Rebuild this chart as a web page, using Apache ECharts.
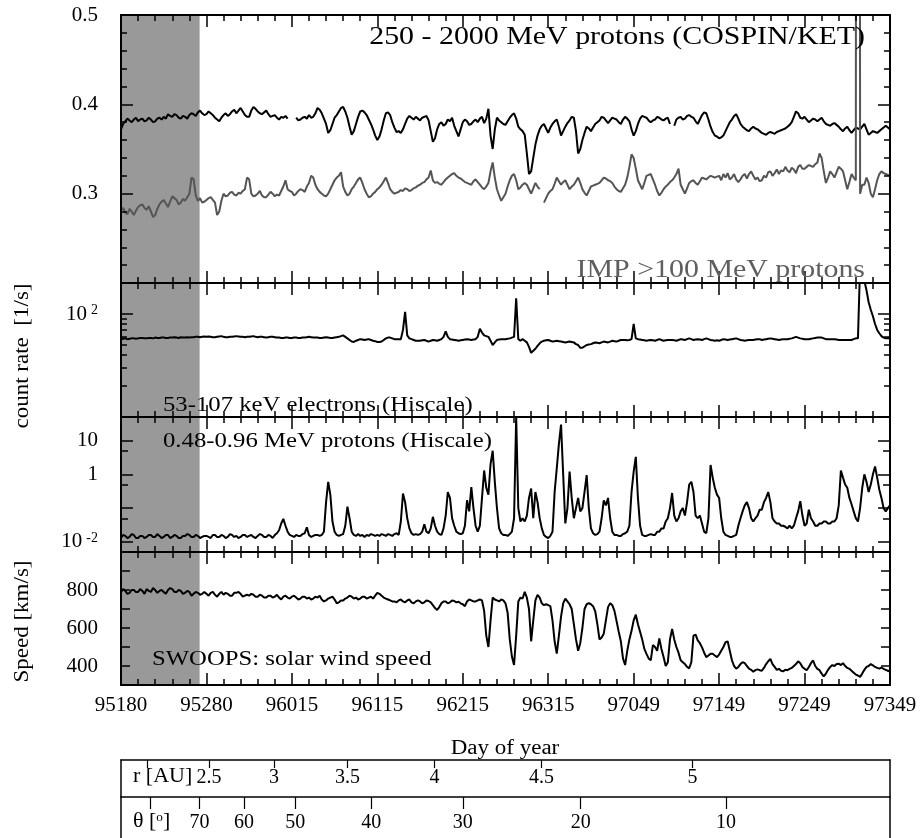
<!DOCTYPE html>
<html><head><meta charset="utf-8">
<script src="https://cdn.jsdelivr.net/npm/echarts@6/dist/echarts.min.js"></script>
<style>html,body{margin:0;padding:0;background:#fff}#c{width:922px;height:838px}</style>
</head><body><div id="c"></div>
<script>
// ---------------- data ----------------
const dayStep = 2.5; // days between samples, day 0 = 95180
const xTickLabels = ['95180','95280','96015','96115','96215','96315','97049','97149','97249','97349'];
const shadeDays = [0, 92];

const ketRate = [
0.372,0.378,0.381,0.384,0.382,0.380,0.383,0.385,0.381,0.383,0.384,0.381,0.382,0.385,0.383,0.380,0.381,0.384,0.385,0.383,
0.386,0.384,0.389,0.387,0.386,0.389,0.388,0.385,0.384,0.387,0.386,0.384,0.388,0.390,0.389,0.387,0.391,0.393,0.390,0.388,
0.389,0.392,0.390,0.388,0.385,0.383,0.381,0.385,0.388,0.390,0.387,0.389,0.392,0.394,0.390,0.393,0.396,0.392,0.388,0.386,
0.386,0.393,0.397,0.395,0.392,0.390,0.389,0.391,0.393,0.389,0.386,0.387,0.388,0.385,0.383,0.386,0.385,0.387,0.384,null,
0.385,null,0.385,0.382,0.383,0.385,0.386,0.384,0.388,0.385,0.386,0.390,0.396,0.394,0.390,0.384,0.378,0.368,0.371,0.378,
0.385,0.388,0.392,0.396,0.397,0.392,0.385,0.375,0.366,0.370,0.378,0.386,0.392,0.393,0.391,0.388,0.383,0.378,0.372,0.365,
0.360,0.364,0.372,0.382,0.390,0.391,0.388,0.380,0.374,0.369,0.370,0.368,0.372,0.378,0.384,0.387,0.385,0.383,0.386,0.384,
0.382,0.385,0.386,0.387,0.382,0.370,0.358,0.362,0.372,0.378,0.380,0.376,0.378,0.383,0.381,0.385,0.376,0.370,0.364,0.372,
0.380,0.383,0.381,0.377,0.378,0.381,0.383,0.380,0.384,0.386,0.379,0.384,0.395,0.365,0.350,0.372,0.385,0.382,0.380,0.378,
0.377,0.381,0.385,0.388,0.390,0.384,0.375,0.372,0.370,0.366,0.345,0.322,0.325,0.340,0.355,0.365,0.372,0.376,0.378,0.373,
0.368,0.374,0.378,0.381,0.383,0.375,0.365,0.370,0.375,0.379,0.382,0.386,0.385,0.370,0.345,0.350,0.360,0.368,0.375,0.373,
0.370,0.374,0.378,0.380,0.382,0.386,0.385,0.382,0.379,0.382,0.385,0.384,0.383,0.380,0.378,0.383,0.386,0.384,0.381,0.372,
0.365,0.370,0.378,0.384,0.387,0.386,0.385,0.382,0.380,0.382,0.383,0.386,0.385,0.383,0.382,0.384,0.385,0.378,null,0.376,
0.383,0.385,0.386,0.383,0.384,0.387,0.388,0.386,0.385,0.381,0.378,0.383,0.388,0.391,0.390,0.383,0.375,0.369,0.365,0.364,
0.362,0.363,0.365,0.370,0.375,0.380,0.383,0.387,0.389,0.384,0.378,0.375,0.373,0.371,0.370,0.373,0.375,0.373,0.372,0.370,
0.368,0.367,0.366,0.368,0.369,0.368,0.367,0.369,0.370,0.371,0.372,0.373,0.375,0.377,0.380,0.386,0.392,0.390,0.385,0.384,
0.386,0.383,0.380,0.382,0.384,0.383,0.381,0.383,0.385,0.381,0.378,0.377,0.376,0.378,0.379,0.377,0.375,0.372,0.370,0.373,
0.375,0.371,0.368,0.371,0.374,0.373,0.372,0.375,0.378,0.372,0.366,0.368,0.370,0.369,0.368,0.370,0.372,0.374,0.376,0.374,
0.372];

const impRate = [
0.281,0.284,0.279,0.277,0.283,0.280,0.276,0.281,0.285,0.287,0.288,0.284,0.282,0.286,0.280,0.274,0.276,0.283,0.288,0.291,
0.293,0.289,0.285,0.291,0.297,0.295,0.293,0.288,0.290,0.294,0.292,0.296,0.300,0.318,0.316,0.298,0.292,0.295,0.290,0.291,
0.293,0.295,0.296,0.293,0.290,0.276,0.280,0.292,0.300,0.297,0.298,0.301,0.302,0.299,0.298,0.301,0.300,0.303,0.305,0.318,
0.316,0.300,0.297,0.298,0.300,0.303,0.298,0.296,0.296,0.299,0.302,0.300,0.297,0.299,0.298,0.303,0.308,0.315,0.305,0.303,
0.302,0.298,0.300,0.303,0.305,0.304,0.302,0.308,0.312,0.320,0.318,0.310,0.305,0.302,0.300,0.298,0.297,0.300,0.305,0.310,
0.315,0.318,0.320,0.324,0.308,0.302,0.298,0.300,0.305,0.308,0.312,0.316,0.318,0.312,0.305,0.300,0.296,0.297,0.300,0.302,
0.305,0.307,0.310,0.314,0.318,0.312,0.305,0.302,0.300,0.301,0.302,0.304,0.303,0.306,0.305,0.303,0.304,0.306,0.307,0.309,
0.310,0.312,0.313,0.316,0.318,0.326,0.315,0.312,0.313,0.311,0.310,0.313,0.316,0.318,0.320,0.322,0.323,0.320,0.318,0.317,
0.315,0.313,0.312,0.311,0.310,0.314,0.316,0.313,0.310,0.307,0.305,0.308,0.312,0.325,0.335,0.318,0.305,0.298,0.292,0.296,
0.300,0.308,0.315,0.320,0.322,0.315,0.305,0.307,0.310,0.312,0.310,0.305,0.300,0.306,0.312,0.308,0.305,null,0.290,0.295,
0.300,0.303,0.305,0.311,0.318,0.314,0.310,0.313,0.315,0.310,0.305,0.308,0.310,0.314,0.318,0.312,0.305,0.301,0.298,0.303,
0.308,0.309,0.310,0.311,0.312,0.315,0.318,0.317,0.315,0.314,0.312,0.308,0.305,0.303,0.302,0.306,0.310,0.318,0.330,0.344,
0.340,0.328,0.315,0.310,0.305,0.312,0.320,0.321,0.322,0.316,0.310,0.303,0.298,0.301,0.305,0.308,0.310,0.313,0.315,0.318,
0.322,0.328,0.310,0.305,0.300,0.306,0.312,0.314,0.315,0.312,0.310,0.314,0.318,0.317,0.316,0.318,0.320,0.319,0.318,0.319,
0.320,0.315,0.322,0.318,0.323,0.316,0.318,0.322,0.316,0.313,0.316,0.320,0.322,0.317,0.322,0.325,0.320,0.316,0.318,0.314,
0.315,0.320,0.318,0.324,0.325,0.320,0.323,0.327,0.322,0.326,0.325,0.330,0.326,0.324,0.329,0.327,0.323,0.330,0.332,0.328,
0.328,0.330,0.332,0.331,0.330,0.333,0.335,0.345,0.340,0.325,0.312,0.318,0.325,0.322,0.318,0.324,0.330,0.328,0.325,0.315,
0.305,0.313,0.322,0.318,0.315,5.0,0.300,0.310,0.310,0.318,0.312,0.300,0.296,0.305,0.315,0.322,0.325,0.323,0.322,0.321,
0.320];

const electronRate = [
57,57.5,58,57,57.5,58,58,57.5,58,58.5,58.5,58,58,58.5,58.5,58,59,58.5,58.5,59,
59,58.5,58.5,59,59,59.5,59,58.5,59.5,59,59,59.5,59,59.5,59.5,60,60,59.5,60,60.5,
60,60.5,60,59.5,59.5,60,60.5,61,60,59.5,59.5,60,60,60.5,61,60.5,60,60,59.5,60,
60,60.5,61,60,59.5,60,60,59.5,59,59.5,60,60,59.5,59,59,58.5,58.5,59,59,58.5,
58.5,59,59,58.5,58.5,59,59,59.5,60,59.5,59,59,59,58.5,58.5,59,59.5,59,58.5,58.5,
59,59.5,60,61,62,60,58,56,54,53.5,55,56,57,56.5,56,56.5,57,56,55,54.5,
53.5,53.5,54,56,58,59,59,58,57,57,57,57,70,105,62,58,57,56,55,55,
55,55.5,56,55,54,55,56,55.5,55,56,57,60,68,60,57,56.5,56,55.5,55,55.5,
56,56.5,57,56.5,56,56.5,57,60,72,66,62,61,60,55,50,53,56,56.5,57,57,
57,57.5,58,59,60,142,57,55,57,55,53,48,42,44,46,49,52,54,55,55.5,
56,55,54,54.5,55,54.5,54,53.5,53,53.5,54,53.5,53,51,50,47,47,48.5,50,50.5,
51,52,53,52.5,52,53,54,53.5,53,54,55,54.5,54,55,56,56,56,55.5,56,57,
80,58,57,56.5,56,55.5,55,55.5,56,55.5,55,56,57,56,55,55.5,56,56,56,55.5,
55,56,57,56.5,56,57,58,57,56,56.5,57,56.5,56,57,58,57,56,55.5,55,55.5,
55,56,57,56.5,56,56.5,57,57.5,58,57,56,55.5,55,55.5,56,56,56,56.5,57,57,
56,56.5,57,57.5,58,57.5,57,56.5,56,56.5,57,57,57,57.5,58,59,60,59,58,57.5,
57,57,57,57.5,58,58.5,59,59,59,58,57,57,57,57,57,56.5,56,56,56,56,
56,56,56,57,58,58,300,280,210,170,130,110,95,80,70,65,61,59,58,58,
58];

const protonRate = [
0.013,0.016,0.015,0.013,0.014,0.017,0.016,0.013,0.013,0.015,0.015,0.013,0.014,0.016,0.016,0.014,0.014,0.017,0.015,0.013,
0.014,0.016,0.016,0.013,0.014,0.016,0.015,0.013,0.013,0.015,0.015,0.017,0.016,0.014,0.014,0.016,0.015,0.013,0.014,0.015,
0.015,0.014,0.013,0.016,0.016,0.014,0.014,0.016,0.015,0.013,0.014,0.017,0.016,0.014,0.015,0.013,0.014,0.016,0.016,0.014,
0.015,0.016,0.014,0.013,0.015,0.017,0.016,0.014,0.014,0.016,0.015,0.013,0.016,0.018,0.022,0.035,0.048,0.03,0.02,0.016,
0.015,0.014,0.016,0.015,0.015,0.017,0.018,0.027,0.016,0.014,0.015,0.016,0.016,0.015,0.016,0.02,0.15,0.6,0.25,0.04,
0.02,0.016,0.015,0.016,0.017,0.03,0.11,0.05,0.02,0.016,0.015,0.017,0.015,0.016,0.014,0.016,0.015,0.017,0.016,0.015,
0.016,0.015,0.017,0.016,0.015,0.017,0.016,0.015,0.017,0.018,0.016,0.04,0.27,0.15,0.05,0.025,0.018,0.016,0.017,0.016,
0.017,0.02,0.033,0.02,0.018,0.025,0.055,0.03,0.02,0.017,0.016,0.025,0.06,0.3,0.2,0.05,0.03,0.02,0.018,0.017,
0.018,0.03,0.17,0.08,0.42,0.1,0.03,0.02,0.03,0.2,1.3,0.4,0.25,2.0,5.0,0.6,0.1,0.025,0.018,0.016,
0.016,0.015,0.017,0.02,0.05,48,0.1,0.04,0.05,0.04,0.06,0.2,0.38,0.05,0.3,0.15,0.05,0.025,0.016,0.014,
0.013,0.015,0.02,0.3,1.5,8,30,1.0,0.035,0.1,1.2,0.2,0.05,0.1,0.2,0.08,0.1,0.3,0.95,0.1,
0.025,0.018,0.016,0.017,0.02,0.05,0.17,0.12,0.2,0.05,0.02,0.016,0.016,0.015,0.015,0.017,0.018,0.02,0.03,0.3,
1.2,3.3,0.2,0.03,0.016,0.015,0.015,0.016,0.017,0.016,0.016,0.02,0.02,0.025,0.025,0.04,0.05,0.1,0.28,0.06,
0.04,0.05,0.08,0.1,0.06,0.15,0.5,0.6,0.3,0.06,0.05,0.06,0.035,0.02,0.018,0.05,1.9,0.8,0.4,0.25,
0.2,0.05,0.02,0.016,0.015,0.014,0.014,0.015,0.016,0.03,0.05,0.08,0.12,0.15,0.1,0.05,0.04,0.05,0.06,0.09,
0.09,0.15,0.2,0.3,0.15,0.05,0.04,0.035,0.035,0.03,0.03,0.028,0.025,0.03,0.025,0.03,0.05,0.08,0.16,0.06,
0.03,0.035,0.09,0.05,0.04,0.03,0.03,0.035,0.035,0.04,0.04,0.035,0.035,0.04,0.04,0.05,0.12,1.3,0.8,0.5,
0.4,0.2,0.13,0.08,0.05,0.04,0.1,0.4,1.0,0.6,0.3,0.5,1.0,1.7,0.8,0.35,0.2,0.1,0.08,0.1,
0.12];

const windSpeed = [
790,805,795,780,785,800,800,790,790,805,795,780,805,795,790,810,800,785,795,800,
790,780,800,810,805,790,790,800,795,780,785,795,790,770,780,790,785,775,780,790,
780,770,785,790,775,765,780,790,775,785,780,770,770,785,785,790,780,765,770,775,
770,780,775,765,765,775,770,760,760,770,770,760,765,775,760,750,765,770,760,755,
765,770,760,750,755,765,765,755,760,750,755,765,760,770,750,740,745,755,760,765,
750,730,735,745,745,755,760,770,765,755,760,750,755,765,765,755,760,765,755,770,
785,780,770,760,755,750,745,740,740,735,745,750,740,735,745,750,735,730,740,745,
740,730,735,745,742,735,720,705,695,710,730,740,740,730,735,745,742,735,738,730,
725,715,740,750,745,740,740,745,750,745,690,560,500,640,760,750,745,740,750,745,
730,680,540,450,405,560,740,760,755,790,760,700,530,640,745,775,760,730,720,725,
720,715,640,530,465,560,660,730,755,740,725,700,620,540,480,520,600,700,725,731,
725,715,688,620,540,550,570,640,710,731,720,690,636,580,530,440,405,480,540,585,
640,670,620,580,540,490,464,440,430,510,500,480,545,490,447,400,420,540,595,540,
500,470,430,420,410,395,388,420,560,565,535,520,498,470,447,455,465,464,455,447,
460,480,500,525,530,480,430,400,386,395,410,420,415,400,386,380,370,378,382,378,
375,390,410,425,438,410,395,380,385,375,372,380,378,385,390,400,410,425,415,395,
385,378,395,415,429,400,385,378,360,345,360,380,395,405,400,410,412,405,415,400,
390,385,375,365,355,350,343,360,380,395,400,410,403,395,390,386,392,385,380,375,
370];

const electronMajor = [100];
const electronMinor = [20,30,40,50,60,70,80,90];
const protonMajor = [0.01,0.1,1,10];
const protonMinor = [0.05,0.5,5];
const protonLabelled = [0.01,1,10];

const rTickDays = [31,103,179,265,367,492,669];
const rTickLabels = ['','2.5','3','3.5','4','4.5','5'];
const thetaTickDays = [34,92,144,204,293,400,538,708];
const thetaTickLabels = ['','70','60','50','40','30','20','10'];

// ---------------- chart ----------------
const SERIF = '"Liberation Serif","Times New Roman",serif';
const L = Math.log10;
function pairs(arr, tf){ return arr.map((v,i)=>[i*dayStep, v==null ? '-' : (tf ? tf(v) : v)]); }

const grids = [
  {left:121, right:32, top:15, height:268},
  {left:121, right:32, top:283, height:134},
  {left:121, right:32, top:417, height:135},
  {left:121, right:32, top:552, height:133},
  {left:121, right:32, top:760, height:37},
  {left:121, right:32, top:797, height:70}
];

const blk = '#000';
function xAx(g, pos, showLabel){
  return {type:'value', gridIndex:g, position:pos, min:0, max:900, interval:100, z:5,
    axisLine:{onZero:false, lineStyle:{color:blk, width:2}},
    axisTick:{inside:true, length:12, lineStyle:{color:blk, width:1.5}},
    minorTick:{show:true, splitNumber:5, length:6, lineStyle:{color:blk, width:1.5}},
    splitLine:{show:false}, minorSplitLine:{show:false},
    axisLabel:{show:showLabel, margin:10, color:blk, fontFamily:SERIF, fontSize:21,
      showMinLabel:true, showMaxLabel:true,
      formatter:v=>xTickLabels[Math.round(v/100)]}
  };
}
const richLab = {
  b:{fontFamily:SERIF, fontSize:21, color:blk},
  s:{fontFamily:SERIF, fontSize:14, color:blk, verticalAlign:'top', padding:[0,0,0,4]}
};
function yLin(g, pos, min, max, interval, minor, fmt, tickLen){
  const a = {type:'value', gridIndex:g, position:pos, min, max, interval, z:5,
    axisLine:{onZero:false, lineStyle:{color:blk, width:2}},
    axisTick:{inside:true, length:tickLen, lineStyle:{color:blk, width:1.5}},
    splitLine:{show:false},
    axisLabel:{show:!!fmt, margin:23, color:blk, fontFamily:SERIF, fontSize:21, formatter:fmt||undefined, showMinLabel:true, showMaxLabel:true}
  };
  if (minor) a.minorTick = {show:true, splitNumber:minor, length:6, lineStyle:{color:blk, width:1.5}};
  return a;
}
function yLog(g, pos, min, max, ticks, len, labVals, fmt, showLine){
  return {type:'value', gridIndex:g, position:pos, min:L(min), max:L(max), z:5,
    axisLine:{show:showLine, onZero:false, lineStyle:{color:blk, width:2}},
    axisTick:{inside:true, length:len, customValues:ticks.map(L), lineStyle:{color:blk, width:1.5}},
    splitLine:{show:false},
    axisLabel: labVals ? {show:true, margin:23, customValues:labVals.map(L), formatter:fmt, rich:richLab, color:blk, fontFamily:SERIF, fontSize:21} : {show:false}
  };
}
function frameY(g, pos){
  return {type:'value', gridIndex:g, position:pos, min:0, max:1, z:5,
    axisLine:{show:true, onZero:false, lineStyle:{color:blk, width:1.5}},
    axisTick:{show:false}, axisLabel:{show:false}, splitLine:{show:false}};
}
function tableX(g, ticks, labels, tickLen, margin){
  return {type:'value', gridIndex:g, position:'top', min:0, max:900, z:5,
    axisLine:{onZero:false, lineStyle:{color:blk, width:1.5}},
    axisTick:{inside:true, length:tickLen, customValues:ticks, lineStyle:{color:blk, width:1.2}},
    splitLine:{show:false},
    axisLabel:{inside:true, margin, customValues:ticks.filter((t,i)=>labels[i]!==''),
      color:blk, fontFamily:SERIF, fontSize:20,
      formatter:v=>labels[ticks.indexOf(v)]}
  };
}

const xAxis = [];
for (let g=0; g<4; g++){ xAxis.push(xAx(g,'bottom', g===3)); xAxis.push(xAx(g,'top', false)); }
xAxis.push(tableX(4, rTickDays, rTickLabels, 8, 8));
xAxis.push(tableX(5, thetaTickDays, thetaTickLabels, 12, 16));

const elFmt = v => '{b|10}{s|2}';
const prFmt = v => { const r = Math.round(v); return r===1 ? '10' : r===0 ? '1' : '{b|10}{s|-2}'; };
const yAxis = [
  yLin(0,'left',0.2,0.5,0.1,5, v=> v<0.25 ? '' : v.toFixed(1), 12),
  yLin(0,'right',0.2,0.5,0.1,5, null, 12),
  yLog(1,'left',10,200,electronMajor,12,[100],elFmt,true),
  yLog(1,'left',10,200,electronMinor,6,null,null,false),
  yLog(1,'right',10,200,electronMajor,12,null,null,true),
  yLog(1,'right',10,200,electronMinor,6,null,null,false),
  yLog(2,'left',0.005,50,protonMajor,12,protonLabelled,prFmt,true),
  yLog(2,'left',0.005,50,protonMinor,7,null,null,false),
  yLog(2,'right',0.005,50,protonMajor,12,null,null,true),
  yLog(2,'right',0.005,50,protonMinor,7,null,null,false),
  yLin(3,'left',300,1000,100,0, v=> (v===400||v===600||v===800) ? String(v) : '', 9),
  yLin(3,'right',300,1000,100,0, null, 9),
  frameY(4,'left'), frameY(4,'right'), frameY(5,'left'), frameY(5,'right')
];

function shade(xi, yi){
  return {type:'line', xAxisIndex:xi, yAxisIndex:yi, data:[], silent:true, z:1,
    markArea:{silent:true, itemStyle:{color:'#999999', opacity:1},
      data:[[{xAxis:shadeDays[0]},{xAxis:shadeDays[1]}]]}};
}
function line(xi, yi, data, color, w){
  return {type:'line', xAxisIndex:xi, yAxisIndex:yi, data, showSymbol:false, symbol:'none', z:3,
    lineStyle:{color, width:w}, itemStyle:{color}, clip:true, connectNulls:false, silent:true};
}

const series = [
  shade(0,0), line(0,0,pairs(ketRate),'#000',2), line(0,0,pairs(impRate),'#555555',2),
  shade(2,2), line(2,2,pairs(electronRate,L),'#000',2),
  shade(4,6), line(4,6,pairs(protonRate,L),'#000',2),
  shade(6,10), line(6,10,pairs(windSpeed),'#000',2)
];

function txt(x,y,text,size,align,opts){
  return Object.assign({type:'text', x, y, z:100, silent:true, scaleX:1.15,
    style:{text, fontFamily:SERIF, fontSize:size, fill:'#000', align, verticalAlign:'middle'}}, opts||{});
}
const graphic = [
  txt(865,37.5,'250 - 2000 MeV protons (COSPIN/KET)',26,'right'),
  txt(865,270,'IMP >100 MeV protons',26,'right',{style:{text:'IMP >100 MeV protons', fontFamily:SERIF, fontSize:26, fill:'#5f5f5f', align:'right', verticalAlign:'middle'}}),
  txt(163,405,'53-107 keV electrons (Hiscale)',21.5,'left'),
  txt(163,441.5,'0.48-0.96 MeV protons (Hiscale)',21.5,'left'),
  txt(152,659,'SWOOPS: solar wind speed',21.5,'left'),
  txt(22.5,356,'count rate  [1/s]',20,'center',{rotation:Math.PI/2}),
  txt(22.5,621.5,'Speed [km/s]',20,'center',{rotation:Math.PI/2}),
  txt(505,749,'Day of year',20,'center'),
  txt(133,777,'r [AU]',20,'left',{scaleX:1.1}),
  {type:'text', x:133, y:822, z:100, silent:true, scaleX:1.1,
    style:{text:'θ [{s|o}]', fontFamily:SERIF, fontSize:20, fill:'#000', align:'left', verticalAlign:'middle',
      rich:{s:{fontFamily:SERIF, fontSize:12, fill:'#000', verticalAlign:'top'}}}}
];

const chart = echarts.init(document.getElementById('c'), null, {renderer:'canvas'});
chart.setOption({animation:false, backgroundColor:'#fff', grid:grids, xAxis, yAxis, series, graphic});
</script>
</body></html>
